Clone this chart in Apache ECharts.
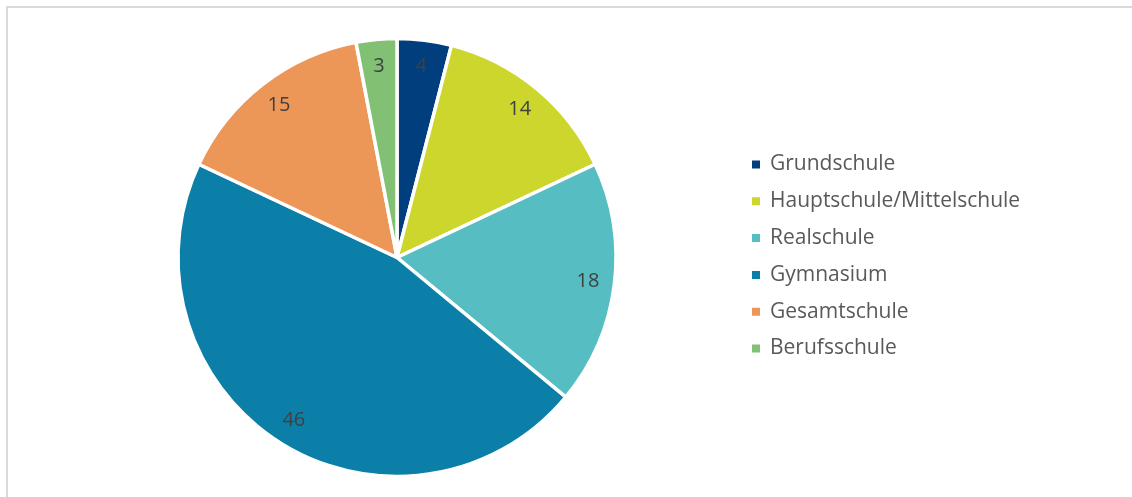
<!DOCTYPE html>
<html>
<head>
<meta charset="utf-8">
<script src="https://cdn.jsdelivr.net/npm/echarts@6/dist/echarts.min.js"></script>
<style>
html,body{margin:0;padding:0;background:#fff;}
#chart{width:1132px;height:497px;}
</style>
</head>
<body>
<div id="chart"></div>
<script>
const categories = ['Grundschule', 'Hauptschule/Mittelschule', 'Realschule', 'Gymnasium', 'Gesamtschule', 'Berufsschule'];
const values = [4, 14, 18, 46, 15, 3];
const colors = ['#003e7e', '#ccd62c', '#56bdc2', '#0b7fa7', '#ec9657', '#82c173'];

const data = categories.map((c, i) => ({ name: c, value: values[i], itemStyle: { color: colors[i] } }));
const FONT = '"Open Sans", "Noto Sans", sans-serif';

const chart = echarts.init(document.getElementById('chart'), null, { renderer: 'canvas' });
chart.setOption({
  animation: false,
  backgroundColor: '#fff',
  graphic: [{
    type: 'rect',
    shape: { x: 7, y: 7, width: 1140, height: 510 },
    style: { fill: 'none', stroke: '#d9d9d9', lineWidth: 2 },
    silent: true
  }],
  legend: {
    orient: 'vertical',
    left: 745,
    top: 149,
    icon: 'rect',
    itemWidth: 10,
    itemHeight: 10,
    itemGap: 15.8,
    data: categories,
    textStyle: { fontFamily: FONT, fontSize: 21, color: '#595959', padding: [0, 0, 0, 4], lineHeight: 21 }
  },
  series: [{
    type: 'pie',
    center: [397, 257.5],
    radius: [0, 219],
    startAngle: 90,
    clockwise: true,
    data: data,
    itemStyle: { borderColor: '#fff', borderWidth: 3.5 },
    label: { show: false },
    labelLine: { show: false },
    emphasis: { disabled: true }
  }, {
    type: 'pie',
    center: [397, 257.5],
    radius: [160, 219],
    startAngle: 90,
    clockwise: true,
    silent: true,
    legendHoverLink: false,
    data: data.map(d => ({ name: d.name, value: d.value, itemStyle: { color: 'rgba(0,0,0,0)' } })),
    itemStyle: { borderWidth: 0 },
    label: { show: true, position: 'inside', formatter: '{c}', fontFamily: FONT, fontSize: 20, color: '#404040' },
    labelLine: { show: false },
    emphasis: { disabled: true }
  }]
});
</script>
</body>
</html>
